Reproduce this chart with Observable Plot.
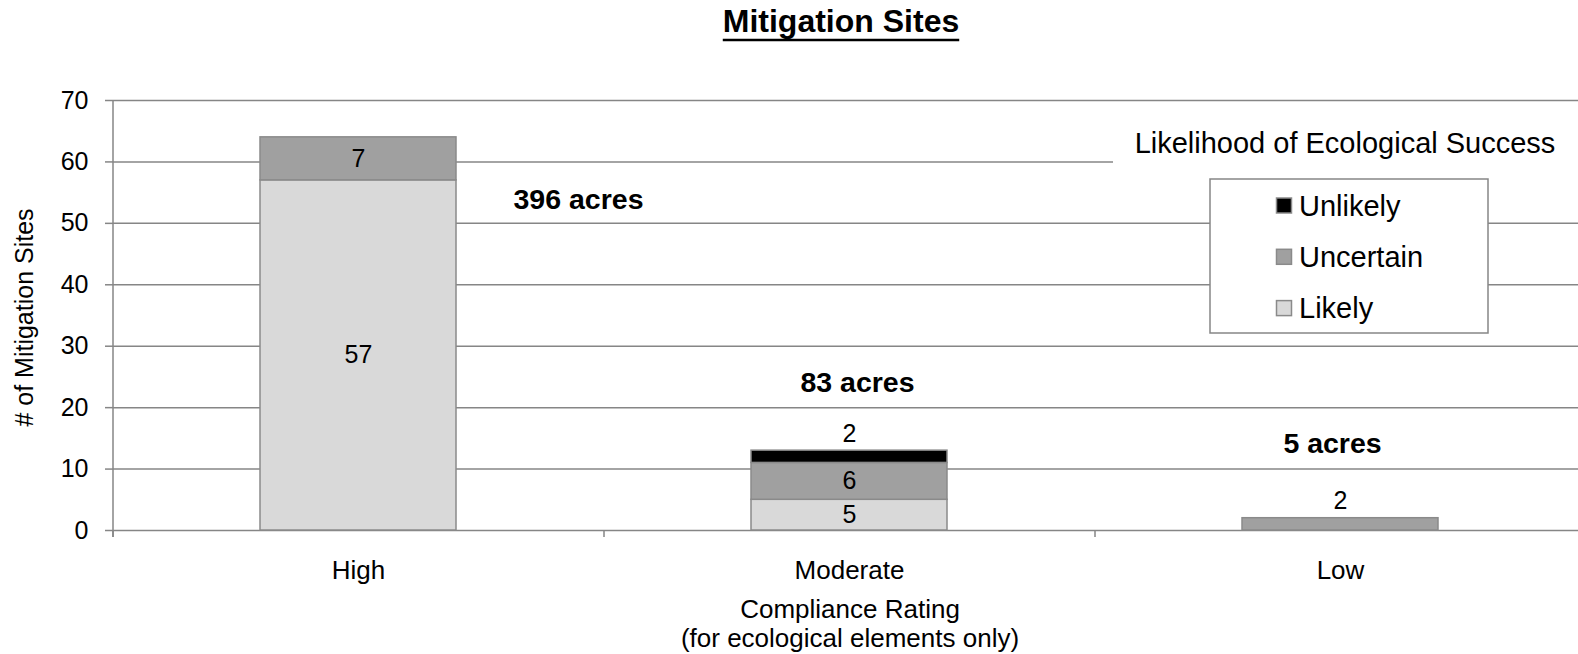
<!DOCTYPE html>
<html>
<head>
<meta charset="utf-8">
<script src="https://cdn.jsdelivr.net/npm/d3@7"></script>
<script src="https://cdn.jsdelivr.net/npm/@observablehq/plot@0.6"></script>
<style>
  html, body { margin: 0; padding: 0; background: #fff; }
  #chart { width: 1578px; height: 654px; overflow: hidden; position: relative; }
</style>
</head>
<body>
<div id="chart"></div>
<script>
// ---- data ----
const categories = ["High", "Moderate", "Low"];
const seriesNames = ["Likely", "Uncertain", "Unlikely"];
const likelyValues = [57, 5, 0];
const uncertainValues = [7, 6, 2];
const unlikelyValues = [0, 2, 0];
const acresValues = [396, 83, 5];
const yTickValues = [0, 10, 20, 30, 40, 50, 60, 70];
const chartTitle = "Mitigation Sites";
const yLabel = "# of Mitigation Sites";
const xLabel = "Compliance Rating\n(for ecological elements only)";
const legendTitle = "Likelihood of Ecological Success";
const legendOrder = ["Unlikely", "Uncertain", "Likely"];

// ---- styling ----
const FONT = "'Liberation Sans', Arial, Helvetica, sans-serif";
const GRID = "#868686";
const seriesColors = ["#d9d9d9", "#a0a0a0", "#000000"];

const seriesValues = [likelyValues, uncertainValues, unlikelyValues];
const rows = [];
categories.forEach((c, i) => {
  seriesNames.forEach((s, j) => {
    const v = seriesValues[j][i];
    if (v > 0) rows.push({category: c, series: s, value: v});
  });
});
const acresRows = categories.map((c, i) => ({category: c, label: acresValues[i] + " acres"}));

// annotation layout (free text boxes in the original)
const acreY = [53.8, 24.1, 14.1];
const acreDx = [220, 8, -8];

const plot = Plot.plot({
  width: 1578,
  height: 654,
  marginLeft: 113,
  marginRight: -8,
  marginTop: 100,
  marginBottom: 124,
  style: {fontFamily: FONT, fontSize: "25px", background: "#fff", color: "#000", overflow: "visible"},
  x: {type: "band", domain: categories, paddingInner: 0.6, paddingOuter: 0.3, align: 0.5, label: null},
  y: {domain: [0, 70], label: null},
  color: {domain: seriesNames, range: seriesColors},
  marks: [
    Plot.gridY(yTickValues, {stroke: GRID, strokeOpacity: 1, strokeWidth: 1.5}),
    Plot.axisY(yTickValues, {tickSize: 8, tickPadding: 17, stroke: GRID, strokeOpacity: 1, strokeWidth: 1.5, fill: "#000", fontSize: 25, label: null}),
    Plot.axisX({tickSize: 0, tickPadding: 30, fontSize: 26, fill: "#000", label: null}),
    Plot.barY(rows, {x: "category", y: "value", fill: "series", stroke: "#8a8a8a", strokeWidth: 1.5}),
    Plot.text(rows, Plot.stackY({
      x: "category", y: "value", z: "series",
      text: d => d.value > 2 ? String(d.value) : null,
      fontSize: 25, lineAnchor: "middle", fill: "#000"
    })),
    Plot.text(rows, Plot.stackY2({
      x: "category", y: "value", z: "series",
      text: d => d.value <= 2 ? String(d.value) : null,
      fontSize: 25, lineAnchor: "middle", dy: -17, fill: "#000"
    })),
    ...acresRows.map((d, i) => Plot.text([d], {
      x: "category", y: () => acreY[i], dx: acreDx[i], text: "label",
      fontSize: 28.5, fontWeight: "bold", lineAnchor: "middle", fill: "#000"
    })),
    Plot.text([yLabel], {frameAnchor: "left", rotate: -90, dx: -89, dy: 2, fontSize: 25, textAnchor: "middle", lineAnchor: "middle", fill: "#000"}),
    Plot.text([xLabel], {frameAnchor: "bottom", textAnchor: "middle", lineAnchor: "top", dy: 68, fontSize: 26, lineHeight: 1.08, fill: "#000"})
  ]
});

document.getElementById("chart").appendChild(plot);

// ---- extra chrome derived from the scales ----
const svg = d3.select(plot);
const xs = plot.scale("x");
const ys = plot.scale("y");
const [r0, r1] = xs.range;
const yBase = ys.range[0];
const yTop = ys.range[1];
const n = categories.length;

const axisG = svg.append("g").attr("stroke", GRID).attr("stroke-width", 1.5);
axisG.append("line").attr("x1", r0).attr("x2", r0).attr("y1", yTop).attr("y2", yBase + 7);
for (let i = 0; i <= n; i++) {
  const bx = r0 + i * (r1 - r0) / n;
  axisG.append("line").attr("x1", bx).attr("x2", bx).attr("y1", yBase).attr("y2", yBase + 7);
}

// title with underline
const titleText = svg.append("text")
  .attr("x", 841).attr("y", 32)
  .attr("text-anchor", "middle")
  .style("font-family", FONT).style("font-size", "32px").style("font-weight", "bold")
  .attr("fill", "#000")
  .text(chartTitle);
const tb = titleText.node().getBBox();
svg.append("line")
  .attr("x1", tb.x).attr("x2", tb.x + tb.width)
  .attr("y1", 40).attr("y2", 40)
  .attr("stroke", "#000").attr("stroke-width", 2.5);

// legend
const lg = svg.append("g");
lg.append("rect").attr("x", 1113).attr("y", 126).attr("width", 480).attr("height", 42).attr("fill", "#fff");
lg.append("text")
  .attr("x", 1345).attr("y", 153).attr("text-anchor", "middle")
  .style("font-family", FONT).style("font-size", "29px").attr("fill", "#000")
  .text(legendTitle);
lg.append("rect").attr("x", 1210).attr("y", 179).attr("width", 278).attr("height", 154)
  .attr("fill", "#fff").attr("stroke", GRID).attr("stroke-width", 1.5);
const colorOf = s => seriesColors[seriesNames.indexOf(s)];
legendOrder.forEach((s, i) => {
  const cy = 205.5 + i * 51.3;
  lg.append("rect").attr("x", 1276.5).attr("y", cy - 7.5).attr("width", 15).attr("height", 15)
    .attr("fill", colorOf(s)).attr("stroke", "#8a8a8a").attr("stroke-width", 1.5);
  lg.append("text")
    .attr("x", 1299).attr("y", cy + 10).attr("text-anchor", "start")
    .style("font-family", FONT).style("font-size", "29px").attr("fill", "#000")
    .text(s);
});
</script>
</body>
</html>
